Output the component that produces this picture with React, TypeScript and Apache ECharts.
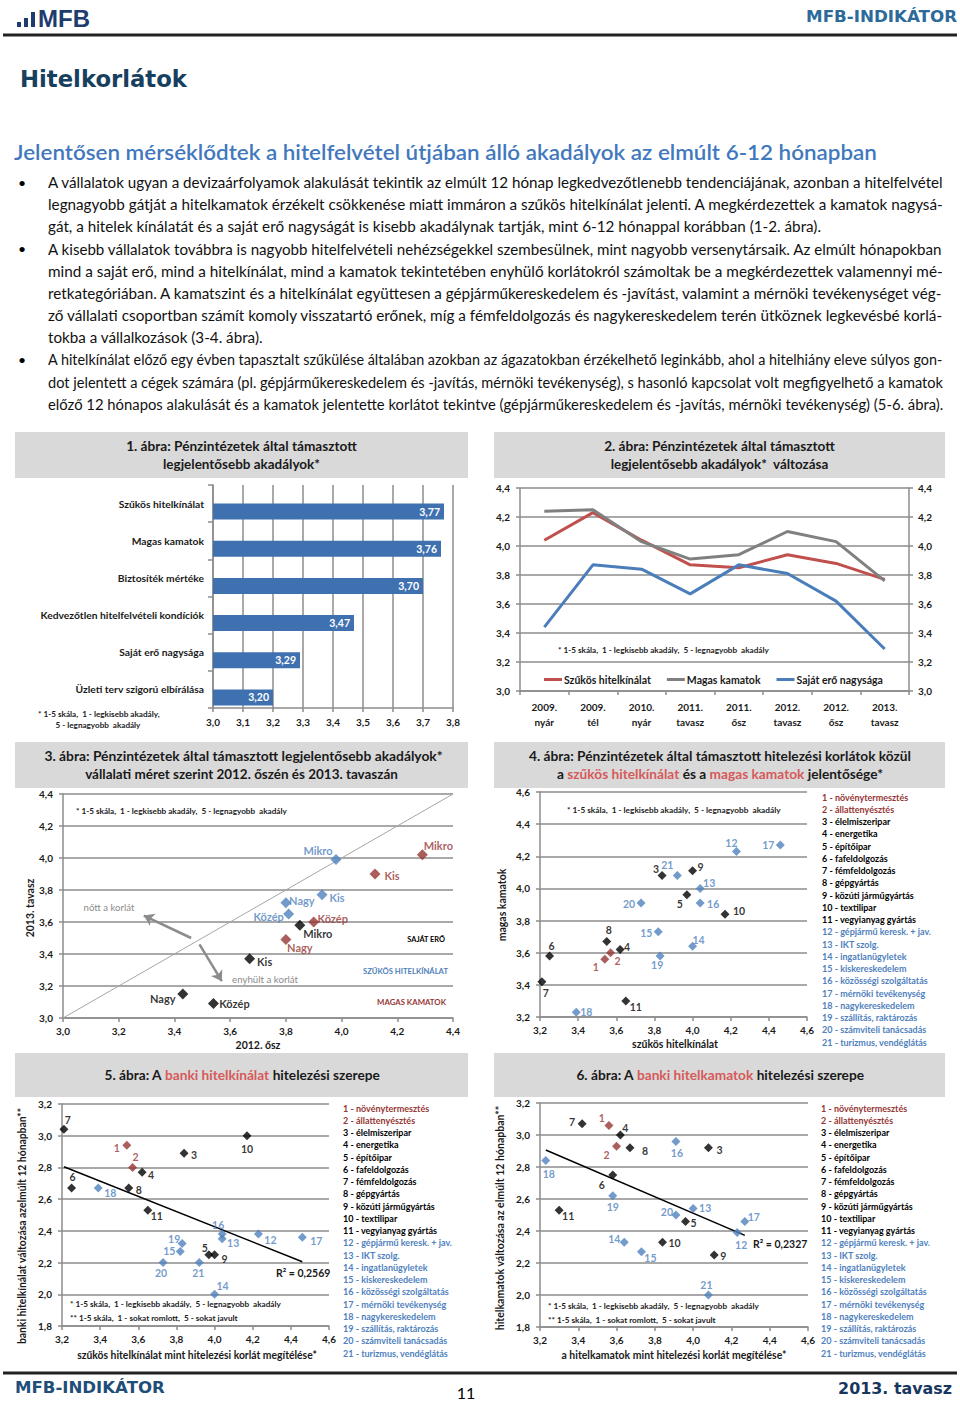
import React, { useEffect, useRef } from "react";
import * as echarts from "echarts";

// ---------------- DATA ----------------
const obstacleCategories = [
  "Szűkös hitelkínálat",
  "Magas kamatok",
  "Biztosíték mértéke",
  "Kedvezőtlen hitelfelvételi kondíciók",
  "Saját erő nagysága",
  "Üzleti terv szigorú elbírálása",
];
const obstacleValues = [3.77, 3.76, 3.7, 3.47, 3.29, 3.2];

const surveyPeriods = [
  "2009.\nnyár",
  "2009.\ntél",
  "2010.\nnyár",
  "2011.\ntavasz",
  "2011.\nősz",
  "2012.\ntavasz",
  "2012.\nősz",
  "2013.\ntavasz",
];
const trendSzukosKinalat = [4.04, 4.23, 4.04, 3.87, 3.85, 3.94, 3.88, 3.77];
const trendMagasKamat = [4.24, 4.25, 4.03, 3.91, 3.94, 4.1, 4.03, 3.76];
const trendSajatEro = [3.44, 3.87, 3.84, 3.67, 3.87, 3.81, 3.62, 3.29];

const firmSizes = ["Mikro", "Kis", "Közép", "Nagy"];
const sajatEro2012osz = [3.85, 3.67, 3.54, 3.43];
const sajatEro2013tavasz = [3.58, 3.37, 3.09, 3.15];
const szukos2012osz = [3.98, 3.93, 3.81, 3.8];
const szukos2013tavasz = [3.99, 3.77, 3.65, 3.72];
const kamat2012osz = [4.29, 4.12, 3.9, 3.8];
const kamat2013tavasz = [4.02, 3.9, 3.6, 3.49];
const diagonalRange = [3.0, 4.4];

const sectorNames = [
  "növénytermesztés",
  "állattenyésztés",
  "élelmiszeripar",
  "energetika",
  "építőipar",
  "fafeldolgozás",
  "fémfeldolgozás",
  "gépgyártás",
  "közúti járműgyártás",
  "textilipar",
  "vegyianyag gyártás",
  "gépjármű keresk. + jav.",
  "IKT szolg.",
  "ingatlanügyletek",
  "kiskereskedelem",
  "közösségi szolgáltatás",
  "mérnöki tevékenység",
  "nagykereskedelem",
  "szállítás, raktározás",
  "számviteli tanácsadás",
  "turizmus, vendéglátás",
];
const sectorGroups = [
  "agrar", "agrar",
  "ipar", "ipar", "ipar", "ipar", "ipar", "ipar", "ipar", "ipar", "ipar",
  "szolg", "szolg", "szolg", "szolg", "szolg", "szolg", "szolg", "szolg", "szolg", "szolg",
];
// szűkös hitelkínálat mint korlát (4. ábra x, 5. ábra x)
const sectorKinalatKorlat = [3.54, 3.57, 3.84, 3.62, 3.97, 3.25, 3.21, 3.55, 4.0, 4.17, 3.65, 4.23, 4.04, 4.0, 3.82, 4.04, 4.46, 3.39, 3.83, 3.73, 3.92];
// magas kamatok mint korlát (4. ábra y, 6. ábra x)
const sectorKamatKorlat = [3.56, 3.6, 4.08, 3.62, 3.96, 3.58, 3.42, 3.67, 4.11, 3.84, 3.3, 4.23, 4.0, 3.64, 3.73, 3.91, 4.27, 3.23, 3.58, 3.91, 4.08];
// banki hitelkínálat változása (5. ábra y)
const sectorKinalatValtozas = [2.94, 2.8, 2.89, 2.77, 2.25, 2.67, 3.04, 2.67, 2.25, 3.0, 2.53, 2.38, 2.35, 2.0, 2.27, 2.38, 2.36, 2.67, 2.32, 2.2, 2.2];
// hitelkamatok változása (6. ábra y)
const sectorKamatValtozas = [3.06, 2.93, 2.92, 3.0, 2.46, 2.75, 3.07, 2.92, 2.25, 2.33, 2.53, 2.39, 2.54, 2.33, 2.27, 2.96, 2.46, 2.84, 2.62, 2.5, 2.0];

const bulletParagraphs = [
  [
    "A vállalatok ugyan a devizaárfolyamok alakulását tekintik az elmúlt 12 hónap legkedvezőtlenebb tendenciájának, azonban a hitelfelvétel",
    "legnagyobb gátját a hitelkamatok érzékelt csökkenése miatt immáron a szűkös hitelkínálat jelenti. A megkérdezettek a kamatok nagysá-",
    "gát, a hitelek kínálatát és a saját erő nagyságát is kisebb akadálynak tartják, mint 6-12 hónappal korábban (1-2. ábra).",
  ],
  [
    "A kisebb vállalatok továbbra is nagyobb hitelfelvételi nehézségekkel szembesülnek, mint nagyobb versenytársaik. Az elmúlt hónapokban",
    "mind a saját erő, mind a hitelkínálat, mind a kamatok tekintetében enyhülő korlátokról számoltak be a megkérdezettek valamennyi mé-",
    "retkategóriában. A kamatszint és a hitelkínálat együttesen a gépjárműkereskedelem és -javítást, valamint a mérnöki tevékenységet vég-",
    "ző vállalati csoportban számít komoly visszatartó erőnek, míg a fémfeldolgozás és nagykereskedelem terén ütköznek legkevésbé korlá-",
    "tokba a vállalkozások (3-4. ábra).",
  ],
  [
    "A hitelkínálat előző egy évben tapasztalt szűkülése általában azokban az ágazatokban érzékelhető leginkább, ahol a hitelhiány eleve súlyos gon-",
    "dot jelentett a cégek számára (pl. gépjárműkereskedelem és -javítás, mérnöki tevékenység), s hasonló kapcsolat volt megfigyelhető a kamatok",
    "előző 12 hónapos alakulását és a kamatok jelentette korlátot tekintve (gépjárműkereskedelem és -javítás, mérnöki tevékenység) (5-6. ábra).",
  ],
];

// ---------------- STYLE / LAYOUT ----------------
const FONT = "Lato";
const GRAY = "#8c8c8c";
const RED_DARK = "#953735";
const BLUE = "#4f81bd";
const TITLE_RED = "#d65a5a";
const TXT = "#1a1a1a";
const groupColor: Record<string, string> = { agrar: RED_DARK, ipar: "#000000", szolg: BLUE };

const lastLineWidths = [774, 215, 896];

const labelOffsetsFig3: Record<string, number[][]> = {
  sajat: [[18, 8], [15, 3], [21, 0], [-20, 4]],
  szukos: [[-18, -9], [15, 3], [-20, 2], [16, -2]],
  kamat: [[16, -9], [17, 1], [19, -4], [14, 8]],
};
const labelOffsetsFig4 = [[-9, 8], [7, 8], [-6, -7], [7, -3], [-7, 9], [2, -10], [4, 11], [2, -11], [8, -4], [14, -3], [10, 6], [-5, -8], [9, -5], [6, -6], [-12, 1], [13, 1], [-12, 0], [10, 0], [-3, 9], [-12, 1], [-10, -11]];
const labelOffsetsFig5 = [[-10, 3], [3, -10], [10, 2], [9, 3], [-4, -7], [1, -11], [4, -9], [10, 2], [10, 4], [0, 13], [9, 6], [12, 6], [11, 4], [8, -8], [-11, 0], [-4, -9], [14, 4], [12, 5], [-8, -5], [-2, 10], [-1, 10]];
const labelOffsetsFig6 = [[-7, -7], [-10, 9], [11, 2], [5, -7], [8, 2], [-11, 10], [-10, -2], [15, 3], [9, 1], [12, 1], [9, 6], [4, 12], [12, -1], [-10, -3], [9, 6], [1, 12], [9, -4], [3, 13], [0, 11], [-9, -3], [-2, -10]];

const comma = (v: number, d = 1) => v.toFixed(d).replace(".", ",");

let measureCtx: CanvasRenderingContext2D | null = null;
function textWidth(text: string, font: string) {
  if (!measureCtx) measureCtx = document.createElement("canvas").getContext("2d");
  if (!measureCtx) return 0;
  measureCtx.font = font;
  return measureCtx.measureText(text).width;
}

type TOpt = {
  size: number;
  weight?: string | number;
  color?: string;
  family?: string;
  align?: "left" | "center" | "right";
  fit?: number;
  rotation?: number;
  rich?: any;
  plain?: string;
};

function T(x: number, y: number, text: string, o: TOpt) {
  const family = o.family ?? FONT;
  const weight = o.weight ?? "normal";
  let scaleX = 1;
  if (o.fit) {
    const w = textWidth(o.plain ?? text, `${weight} ${o.size}px "${family}"`);
    if (w > 0) scaleX = o.fit / w;
  }
  const style: any = {
    text,
    fill: o.color ?? "#000",
    fontSize: o.size,
    fontFamily: family,
    fontWeight: weight,
    align: o.align ?? "left",
    verticalAlign: "middle",
  };
  if (o.rich) style.rich = o.rich;
  return { type: "text", x, y, rotation: o.rotation ?? 0, scaleX, silent: true, style };
}

function richTitle(size: number) {
  const base = { fontSize: size, fontFamily: FONT, fontWeight: "bold" };
  return { k: { ...base, fill: TXT }, r: { ...base, fill: TITLE_RED } };
}

function regressionLine(xs: number[], ys: number[]) {
  const n = xs.length;
  const mx = xs.reduce((a, b) => a + b, 0) / n;
  const my = ys.reduce((a, b) => a + b, 0) / n;
  let sxy = 0, sxx = 0;
  for (let i = 0; i < n; i++) {
    sxy += (xs[i] - mx) * (ys[i] - my);
    sxx += (xs[i] - mx) * (xs[i] - mx);
  }
  const a = sxy / sxx;
  const b = my - a * mx;
  const x0 = Math.min(...xs), x1 = Math.max(...xs);
  return [[x0, b + a * x0], [x1, b + a * x1]];
}

const axisLabelBase = { color: TXT, fontFamily: FONT, fontWeight: "bold", fontSize: 10 };
const axisLineGray = { show: true, lineStyle: { color: GRAY, width: 1.5 } };
const tickGray = { show: true, inside: false, length: 4, lineStyle: { color: GRAY, width: 1.5 } };
const splitGray = { show: true, lineStyle: { color: GRAY, width: 1.5 } };

function valAxis(gridIndex: number, min: number, max: number, interval: number, extra: any = {}) {
  return {
    type: "value",
    gridIndex,
    min,
    max,
    interval,
    axisLine: axisLineGray,
    axisTick: tickGray,
    splitLine: { show: false },
    axisLabel: { ...axisLabelBase, margin: 8, formatter: (v: number) => comma(v) },
    ...extra,
  };
}

function sectorSeries(xs: number[], ys: number[], offsets: number[][], xi: number, yi: number) {
  return {
    type: "scatter",
    xAxisIndex: xi,
    yAxisIndex: yi,
    symbol: "diamond",
    symbolSize: 9,
    z: 5,
    emphasis: { disabled: true },
    label: { show: true, position: "inside", formatter: "{b}", fontFamily: FONT, fontWeight: "bold", fontSize: 10.5 },
    data: xs.map((x, i) => ({
      value: [x, ys[i]],
      name: String(i + 1),
      itemStyle: { color: groupColor[sectorGroups[i]] },
      label: { color: groupColor[sectorGroups[i]], offset: offsets[i] },
    })),
  };
}

function sizeSeries(name: string, xs: number[], ys: number[], color: string, offsets: number[][]) {
  return {
    type: "scatter",
    name,
    xAxisIndex: 2,
    yAxisIndex: 3,
    symbol: "diamond",
    symbolSize: 11,
    z: 5,
    itemStyle: { color },
    emphasis: { disabled: true },
    label: { show: true, position: "inside", formatter: "{b}", color, fontFamily: FONT, fontWeight: "bold", fontSize: 11 },
    data: xs.map((x, i) => ({ value: [x, ys[i]], name: firmSizes[i], label: { offset: offsets[i] } })),
  };
}

function trendLineSeries(xs: number[], ys: number[], xi: number, yi: number) {
  return {
    type: "line",
    xAxisIndex: xi,
    yAxisIndex: yi,
    data: regressionLine(xs, ys),
    symbol: "none",
    lineStyle: { color: "#000", width: 1.5 },
    silent: true,
    z: 3,
  };
}

function buildGraphic() {
  const g: any[] = [];
  // header
  const logo = "#1f3c6e";
  g.push({ type: "rect", shape: { x: 17, y: 22, width: 4, height: 5 }, style: { fill: logo } });
  g.push({ type: "rect", shape: { x: 24, y: 18, width: 4, height: 9 }, style: { fill: logo } });
  g.push({ type: "rect", shape: { x: 31, y: 12, width: 4, height: 15 }, style: { fill: logo } });
  g.push(T(38, 19, "MFB", { size: 23, weight: "bold", family: "Liberation Sans", color: logo, fit: 52 }));
  g.push(T(957, 17, "MFB-INDIKÁTOR", { size: 15, weight: "bold", family: "DejaVu Sans", color: "#2b6a99", align: "right", fit: 151 }));
  g.push({ type: "line", shape: { x1: 3, y1: 35, x2: 957, y2: 35 }, style: { stroke: "#222", lineWidth: 3 } });
  g.push(T(20, 79, "Hitelkorlátok", { size: 23, weight: "bold", family: "DejaVu Sans", color: "#17405e", fit: 167 }));
  g.push(
    T(14, 152, "Jelentősen mérséklődtek a hitelfelvétel útjában álló akadályok az elmúlt 6-12 hónapban", {
      size: 21,
      weight: 600,
      color: "#4178be",
      fit: 863,
    })
  );
  // paragraphs
  let line = 0;
  bulletParagraphs.forEach((para, pi) => {
    para.forEach((txt, li) => {
      const y = 182 + line * 22.2;
      if (li === 0) g.push(T(18, y, "•", { size: 14, color: "#000" }));
      const w = li === para.length - 1 ? lastLineWidths[pi] : 896;
      g.push(T(48, y, txt, { size: 15, color: "#111", fit: w }));
      line++;
    });
  });

  // title boxes
  const boxes = [
    [15, 432, 453, 46],
    [494, 432, 451, 46],
    [15, 742, 453, 46],
    [494, 742, 451, 46],
    [15, 1053, 453, 44],
    [494, 1053, 451, 44],
  ];
  boxes.forEach(([x, y, w, h]) => g.push({ type: "rect", shape: { x, y, width: w, height: h }, style: { fill: "#d9d9d9" }, silent: true }));

  const tb = { size: 13, weight: "bold", color: TXT, align: "center" as const };
  g.push(T(241.5, 446, "1. ábra: Pénzintézetek által támasztott", { ...tb, fit: 231 }));
  g.push(T(241.5, 464, "legjelentősebb akadályok*", { ...tb, fit: 157 }));
  g.push(T(719.5, 446, "2. ábra: Pénzintézetek által támasztott", { ...tb, fit: 231 }));
  g.push(T(719.5, 464, "legjelentősebb akadályok*  változása", { ...tb, fit: 218 }));
  g.push(T(243.5, 756, "3. ábra: Pénzintézetek által támasztott legjelentősebb akadályok*", { ...tb, fit: 399 }));
  g.push(T(241.5, 774, "vállalati méret szerint 2012. őszén és 2013. tavaszán", { ...tb, fit: 313 }));
  g.push(T(720, 756, "4. ábra: Pénzintézetek által támasztott hitelezési korlátok közül", { ...tb, fit: 382 }));
  g.push(
    T(720, 774, "{k|a }{r|szűkös hitelkínálat}{k| és a }{r|magas kamatok}{k| jelentősége*}", {
      ...tb,
      fit: 326,
      rich: richTitle(13),
      plain: "a szűkös hitelkínálat és a magas kamatok jelentősége*",
    })
  );
  g.push(
    T(242, 1075, "{k|5. ábra: A }{r|banki hitelkínálat}{k| hitelezési szerepe}", {
      ...tb,
      fit: 276,
      rich: richTitle(13),
      plain: "5. ábra: A banki hitelkínálat hitelezési szerepe",
    })
  );
  g.push(
    T(720, 1075, "{k|6. ábra: A }{r|banki hitelkamatok}{k| hitelezési szerepe}", {
      ...tb,
      fit: 288,
      rich: richTitle(13),
      plain: "6. ábra: A banki hitelkamatok hitelezési szerepe",
    })
  );

  // footnotes
  const fn = { size: 8, weight: "bold", color: TXT };
  const noteA = "* 1-5 skála,  1 - legkisebb akadály,  5 - legnagyobb  akadály";
  const noteB = "** 1-5 skála,  1 - sokat romlott,  5 - sokat javult";
  g.push(T(38, 714, "* 1-5 skála,  1 - legkisebb akadály,", { ...fn, fit: 122 }));
  g.push(T(98, 725, "5 - legnagyobb  akadály", { ...fn, align: "center", fit: 85 }));
  g.push(T(558, 650, noteA, { ...fn, fit: 211 }));
  g.push(T(76, 811, noteA, { ...fn, fit: 211 }));
  g.push(T(567, 810, noteA, { ...fn, fit: 214 }));
  g.push(T(70, 1304, noteA, { ...fn, fit: 211 }));
  g.push(T(70, 1318, noteB, { ...fn, fit: 168 }));
  g.push(T(548, 1306, noteA, { ...fn, fit: 211 }));
  g.push(T(548, 1320, noteB, { ...fn, fit: 168 }));

  // fig 3 annotations
  g.push(T(109, 907, "nőtt a korlát", { size: 10, color: "#8c8c8c", align: "center", fit: 51 }));
  g.push(T(265, 979, "enyhült a korlát", { size: 10, color: "#8c8c8c", align: "center", fit: 66 }));
  g.push(T(445, 939, "SAJÁT ERŐ", { size: 8, weight: "bold", color: "#000", align: "right", fit: 38 }));
  g.push(T(448, 971, "SZŰKÖS HITELKÍNÁLAT", { size: 8, weight: "bold", color: BLUE, align: "right", fit: 85 }));
  g.push(T(446, 1002, "MAGAS KAMATOK", { size: 8, weight: "bold", color: RED_DARK, align: "right", fit: 69 }));

  // axis titles
  const at = { size: 10.5, weight: "bold", color: TXT, align: "center" as const };
  g.push(T(258, 1045, "2012. ősz", at));
  g.push(T(30, 908, "2013. tavasz", { ...at, rotation: Math.PI / 2 }));
  g.push(T(675, 1044, "szűkös hitelkínálat", at));
  g.push(T(502, 905, "magas kamatok", { ...at, rotation: Math.PI / 2 }));
  g.push(T(197, 1355, "szűkös hitelkínálat mint hitelezési korlát megítélése*", { ...at, fit: 240 }));
  g.push(T(22, 1226, "banki hitelkínálat változása azelmúlt 12 hónapban**", { ...at, rotation: Math.PI / 2, fit: 237 }));
  g.push(T(674, 1355, "a hitelkamatok mint hitelezési korlát megítélése*", { ...at, fit: 225 }));
  g.push(T(500, 1218, "hitelkamatok változása az elmúlt 12 hónapban**", { ...at, rotation: Math.PI / 2, fit: 225 }));

  // R2
  g.push(T(276, 1273, "R² = 0,2569", { size: 10.5, weight: "bold", color: TXT }));
  g.push(T(753, 1244, "R² = 0,2327", { size: 10.5, weight: "bold", color: TXT }));

  // sector lists
  const lists = [
    [822, 797],
    [343, 1108],
    [821, 1108],
  ];
  lists.forEach(([x, y0]) => {
    sectorNames.forEach((nm, i) => {
      g.push(T(x, y0 + i * 12.25, `${i + 1} - ${nm}`, { size: 9, weight: "bold", color: groupColor[sectorGroups[i]] }));
    });
  });

  // footer
  g.push({ type: "line", shape: { x1: 3, y1: 1373, x2: 957, y2: 1373 }, style: { stroke: "#222", lineWidth: 3 } });
  g.push(T(15, 1388, "MFB-INDIKÁTOR", { size: 15, weight: "bold", family: "DejaVu Sans", color: "#1f4e79", fit: 150 }));
  g.push(T(466, 1392, "11", { size: 16, color: "#000", align: "center" }));
  g.push(T(952, 1388, "2013. tavasz", { size: 16, weight: "bold", family: "DejaVu Sans", color: "#17375e", align: "right", fit: 114 }));
  return g;
}

function buildOption() {
  const grids = [
    { left: 213, top: 485, width: 240, height: 223 },
    { left: 520, top: 488, width: 389, height: 203 },
    { left: 63, top: 794, width: 390, height: 224 },
    { left: 540, top: 792, width: 267, height: 225 },
    { left: 62, top: 1104, width: 267, height: 222 },
    { left: 540, top: 1103, width: 268, height: 224 },
  ].map((gr) => ({ ...gr, containLabel: false, outerBoundsMode: "none" }));

  const xAxis = [
    valAxis(0, 3.0, 3.8, 0.1, { splitLine: splitGray, axisLabel: { ...axisLabelBase, margin: 9, formatter: (v: number) => comma(v) } }),
    {
      type: "category",
      gridIndex: 1,
      data: surveyPeriods,
      boundaryGap: true,
      axisLine: axisLineGray,
      axisTick: { ...tickGray, alignWithLabel: false, interval: 0 },
      axisLabel: { ...axisLabelBase, margin: 8, lineHeight: 15, interval: 0 },
      splitLine: { show: false },
    },
    valAxis(2, 3.0, 4.4, 0.2),
    valAxis(3, 3.2, 4.6, 0.2),
    valAxis(4, 3.2, 4.6, 0.2),
    valAxis(5, 3.2, 4.6, 0.2),
  ];
  const yAxis = [
    {
      type: "category",
      gridIndex: 0,
      inverse: true,
      data: obstacleCategories,
      axisLine: axisLineGray,
      axisTick: { ...tickGray, length: 5, alignWithLabel: false },
      axisLabel: { ...axisLabelBase, fontSize: 10.3, margin: 9 },
    },
    valAxis(1, 3.0, 4.4, 0.2, { splitLine: splitGray, axisLabel: { ...axisLabelBase, margin: 10, formatter: (v: number) => comma(v) } }),
    valAxis(1, 3.0, 4.4, 0.2, { position: "right", axisLabel: { ...axisLabelBase, margin: 9, formatter: (v: number) => comma(v) } }),
    valAxis(2, 3.0, 4.4, 0.2, { splitLine: splitGray, axisLabel: { ...axisLabelBase, margin: 10, formatter: (v: number) => comma(v) } }),
    valAxis(3, 3.2, 4.6, 0.2, { splitLine: splitGray, axisLabel: { ...axisLabelBase, margin: 10, formatter: (v: number) => comma(v) } }),
    valAxis(4, 1.8, 3.2, 0.2, { splitLine: splitGray, axisLabel: { ...axisLabelBase, margin: 10, formatter: (v: number) => comma(v) } }),
    valAxis(5, 1.8, 3.2, 0.2, { splitLine: splitGray, axisLabel: { ...axisLabelBase, margin: 10, formatter: (v: number) => comma(v) } }),
  ];

  const series: any[] = [
    // fig 1
    {
      type: "bar",
      name: "_spacer",
      xAxisIndex: 0,
      yAxisIndex: 0,
      data: obstacleValues.map(() => null),
      barWidth: 16,
      barGap: "0%",
      silent: true,
    },
    {
      type: "bar",
      name: "Akadály",
      xAxisIndex: 0,
      yAxisIndex: 0,
      data: obstacleValues,
      barWidth: 16,
      barGap: "0%",
      itemStyle: { color: "#3f71b1" },
      emphasis: { disabled: true },
      label: {
        show: true,
        position: "insideRight",
        distance: 4,
        color: "#fff",
        fontFamily: FONT,
        fontWeight: "bold",
        fontSize: 10.5,
        formatter: (p: any) => comma(p.value, 2),
      },
    },
    // fig 2
    ...[
      ["Szűkös hitelkínálat", trendSzukosKinalat, "#c0504d"],
      ["Magas kamatok", trendMagasKamat, "#808080"],
      ["Saját erő nagysága", trendSajatEro, "#4a7ebb"],
    ].map(([name, data, color]: any) => ({
      type: "line",
      name,
      xAxisIndex: 1,
      yAxisIndex: 1,
      data,
      symbol: "none",
      itemStyle: { color },
      lineStyle: { color, width: 3 },
      emphasis: { disabled: true },
    })),
    // fig 3
    {
      type: "line",
      name: "_diag",
      xAxisIndex: 2,
      yAxisIndex: 3,
      data: diagonalRange.map((v) => [v, v]),
      symbol: "none",
      silent: true,
      lineStyle: { color: "#a6a6a6", width: 1 },
      z: 2,
      markLine: {
        silent: true,
        symbol: ["none", "arrow"],
        symbolSize: 10,
        label: { show: false },
        lineStyle: { color: "#8c8c8c", width: 2.5, type: "solid" },
        data: [
          [{ coord: [3.46, 3.5] }, { coord: [3.29, 3.64] }],
          [{ coord: [3.49, 3.46] }, { coord: [3.57, 3.23] }],
        ],
      },
    },
    sizeSeries("SAJÁT ERŐ", sajatEro2012osz, sajatEro2013tavasz, "#000000", labelOffsetsFig3.sajat),
    sizeSeries("SZŰKÖS HITELKÍNÁLAT", szukos2012osz, szukos2013tavasz, BLUE, labelOffsetsFig3.szukos),
    sizeSeries("MAGAS KAMATOK", kamat2012osz, kamat2013tavasz, RED_DARK, labelOffsetsFig3.kamat),
    // fig 4
    sectorSeries(sectorKinalatKorlat, sectorKamatKorlat, labelOffsetsFig4, 3, 4),
    // fig 5
    trendLineSeries(sectorKinalatKorlat, sectorKinalatValtozas, 4, 5),
    sectorSeries(sectorKinalatKorlat, sectorKinalatValtozas, labelOffsetsFig5, 4, 5),
    // fig 6
    trendLineSeries(sectorKamatKorlat, sectorKamatValtozas, 5, 6),
    sectorSeries(sectorKamatKorlat, sectorKamatValtozas, labelOffsetsFig6, 5, 6),
  ];

  return {
    animation: false,
    backgroundColor: "#ffffff",
    textStyle: { fontFamily: FONT },
    grid: grids,
    xAxis,
    yAxis,
    legend: {
      left: 539,
      top: 669,
      orient: "horizontal",
      icon: "rect",
      itemWidth: 18,
      itemHeight: 3,
      itemGap: 16,
      selectedMode: false,
      data: ["Szűkös hitelkínálat", "Magas kamatok", "Saját erő nagysága"],
      textStyle: { color: TXT, fontFamily: FONT, fontWeight: "bold", fontSize: 10.5, padding: [0, 0, 0, -3] },
    },
    series,
    graphic: buildGraphic(),
  };
}

export default function App() {
  const ref = useRef<HTMLDivElement>(null);
  useEffect(() => {
    document.body.style.margin = "0";
    if (!ref.current) return;
    const chart = echarts.init(ref.current, undefined, { renderer: "svg" });
    chart.setOption(buildOption() as any);
    return () => chart.dispose();
  }, []);
  return <div ref={ref} style={{ width: 960, height: 1401, background: "#fff" }} />;
}
